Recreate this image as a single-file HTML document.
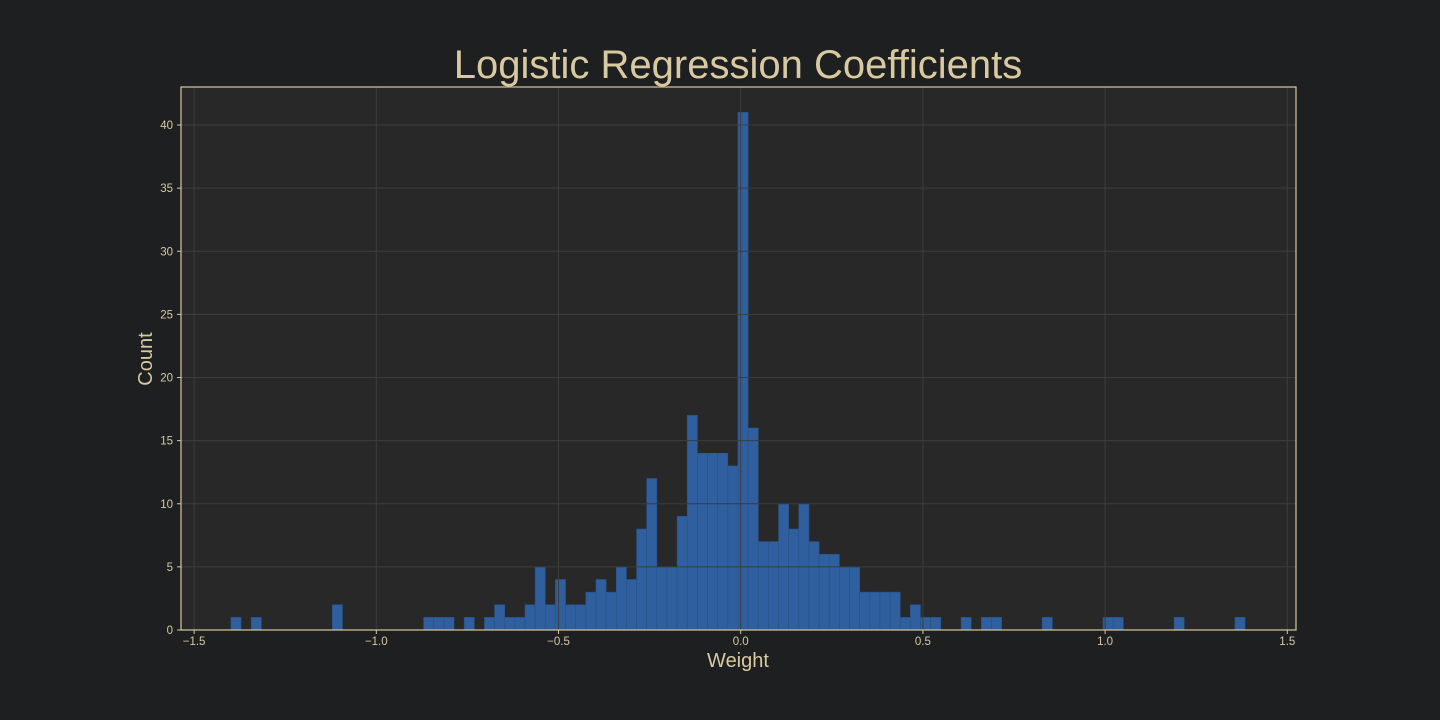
<!DOCTYPE html>
<html><head><meta charset="utf-8"><style>
html,body{margin:0;padding:0;background:#1d1f20;}
svg{display:block;font-family:"Liberation Sans",sans-serif;}
</style></head><body>
<svg id="chart" width="1440" height="720" viewBox="0 0 1440 720">
<rect x="0" y="0" width="1440" height="720" fill="#1d1f20"/>
<text x="738" y="78" text-anchor="middle" font-size="40" fill="#d9c9a1">Logistic Regression Coefficients</text>
<rect x="181" y="87" width="1115" height="543" fill="#282828"/>
<g id="bars"></g>
<g id="grid"></g>
<g id="xticks"></g>
<g id="yticks"></g>
<rect x="181" y="87" width="1115" height="543" fill="none" stroke="#d9c9a1" stroke-width="1.2"/>
<text x="738" y="667" text-anchor="middle" font-size="20" fill="#d9c9a1">Weight</text>
<text x="152" y="359" text-anchor="middle" font-size="20" fill="#d9c9a1" transform="rotate(-90 152 359)">Count</text>
</svg>
<script>
const binMin = -1.399;
const binMax = 1.384;
const counts = [1,0,1,0,0,0,0,0,0,0, 2,0,0,0,0,0,0,0,0,1, 1,1,0,1,0,1,2,1,1,2, 5,2,4,2,2,3,4,3,5,4, 8,12,5,5,9,17,14,14,14,13, 41,16,7,7,10,8,10,7,6,6, 5,5,3,3,3,3,1,2,1,1, 0,0,1,0,1,1,0,0,0,0, 1,0,0,0,0,0,1,1,0,0, 0,0,0,1,0,0,0,0,0,1];
const xTicks = [-1.5,-1.0,-0.5,0.0,0.5,1.0,1.5];
const yTicks = [0,5,10,15,20,25,30,35,40];
const NS = "http://www.w3.org/2000/svg";
function xs(v){ return 740.7 + v*364.4; }
function ys(c){ return 630 - c*12.625; }
const bw = (binMax-binMin)/counts.length;
const bars = document.getElementById('bars');
counts.forEach((c,i)=>{
  if(c<=0) return;
  const r = document.createElementNS(NS,'rect');
  const x0 = xs(binMin+i*bw), x1 = xs(binMin+(i+1)*bw);
  r.setAttribute('x', x0); r.setAttribute('width', x1-x0);
  r.setAttribute('y', ys(c)); r.setAttribute('height', ys(0)-ys(c));
  r.setAttribute('fill', '#2f5f9e'); r.setAttribute('stroke', '#2a5288'); r.setAttribute('stroke-width', '0.6');
  
  
  bars.appendChild(r);
});
const grid = document.getElementById('grid');
const xt = document.getElementById('xticks');
const yt = document.getElementById('yticks');
xTicks.forEach(v=>{
  const x = xs(v);
  const l = document.createElementNS(NS,'line');
  l.setAttribute('x1',x);l.setAttribute('x2',x);l.setAttribute('y1',87);l.setAttribute('y2',630);
  l.setAttribute('stroke','#3c3c3c');l.setAttribute('stroke-width','1');
  
  
  grid.appendChild(l);
  const t = document.createElementNS(NS,'line');
  t.setAttribute('x1',x);t.setAttribute('x2',x);t.setAttribute('y1',630);t.setAttribute('y2',634);
  t.setAttribute('stroke','#d9c9a1');
  
  
  xt.appendChild(t);
  const s = document.createElementNS(NS,'text');
  s.setAttribute('x',x);s.setAttribute('y',645);s.setAttribute('text-anchor','middle');
  s.setAttribute('font-size','11.5');s.setAttribute('fill','#d9c9a1');
  s.textContent = (v<0?'\u2212':'') + Math.abs(v).toFixed(1);
  
  
  xt.appendChild(s);
});
yTicks.forEach(v=>{
  const y = ys(v);
  const l = document.createElementNS(NS,'line');
  l.setAttribute('x1',181);l.setAttribute('x2',1296);l.setAttribute('y1',y);l.setAttribute('y2',y);
  l.setAttribute('stroke','#3c3c3c');l.setAttribute('stroke-width','1');
  
  
  grid.appendChild(l);
  const t = document.createElementNS(NS,'line');
  t.setAttribute('x1',177);t.setAttribute('x2',181);t.setAttribute('y1',y);t.setAttribute('y2',y);
  t.setAttribute('stroke','#d9c9a1');
  
  
  yt.appendChild(t);
  const s = document.createElementNS(NS,'text');
  s.setAttribute('x',173);s.setAttribute('y',y+4);s.setAttribute('text-anchor','end');
  s.setAttribute('font-size','11.5');s.setAttribute('fill','#d9c9a1');
  s.textContent = String(v);
  
  
  yt.appendChild(s);
});
</script>
</body></html>
